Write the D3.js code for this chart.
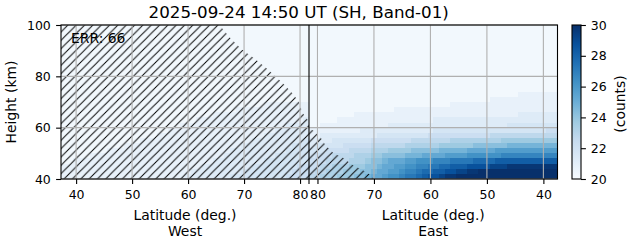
<!DOCTYPE html>
<html><head><meta charset="utf-8">
<script src="https://cdn.jsdelivr.net/npm/d3@7"></script>
<style>body{margin:0;background:#fff}svg text{font-family:"DejaVu Sans",sans-serif;fill:#000}</style>
</head><body><svg id="c" width="631" height="243"></svg>
<script>
// ---------------- data ----------------
const latWest = [38,39,40,41,42,43,44,45,46,47,48,49,50,51,52,53,54,55,56,57,58,59,60,61,62,63,64,65,66,67,68,69,70,71,72,73,74,75,76,77,78,79,80,81];
const latEast = [81,80,79,78,77,76,75,74,73,72,71,70,69,68,67,66,65,64,63,62,61,60,59,58,57,56,55,54,53,52,51,50,49,48,47,46,45,44,43,42,41,40,39,38];
const altBottom = [40,42,44,46,48,50,52,54,56,58,60,62,64,66,68,70,72,74,76,78,80,82,84,86,88,90,92,94,96,98];
const altStep = 2;
// counts per cell, value = 20.25 + 0.5 * index of the character in codeKey
const codeKey = "0123456789abcdefghijk";
// rows from 40 km (first) to 100 km (last); columns follow latWest
const westRows = [
"1111111111"+"1111111111"+"1122222222"+"3333333333"+"4444",
"1111111111"+"1111111111"+"1112222222"+"2233333333"+"3444",
"1111111111"+"1111111111"+"1111122222"+"2222333333"+"3344",
"0011111111"+"1111111111"+"1111111222"+"2222223333"+"3333",
"0000011111"+"1111111111"+"1111111112"+"2222222233"+"3333",
"0000000011"+"1111111111"+"1111111111"+"2222222222"+"3333",
"0000000000"+"0111111111"+"1111111111"+"1122222222"+"2333",
"0000000000"+"0000111111"+"1111111111"+"1111222222"+"2223",
"0000000000"+"0000000111"+"1111111111"+"1111112222"+"2222",
"0000000000"+"0000000001"+"1111111111"+"1111111122"+"2222",
"0000000000"+"0000000000"+"0111111111"+"1111111111"+"2222",
"0000000000"+"0000000000"+"0000111111"+"1111111111"+"1112",
"0000000000"+"0000000000"+"0000000111"+"1111111111"+"1111",
"0000000000"+"0000000000"+"0000000000"+"0111111111"+"1111",
"0000000000"+"0000000000"+"0000000000"+"0000001111"+"1111",
"0000000000"+"0000000000"+"0000000000"+"0000000000"+"0000",
"0000000000"+"0000000000"+"0000000000"+"0000000000"+"0000",
"0000000000"+"0000000000"+"0000000000"+"0000000000"+"0000",
"0000000000"+"0000000000"+"0000000000"+"0000000000"+"0000",
"0000000000"+"0000000000"+"0000000000"+"0000000000"+"0000",
"0000000000"+"0000000000"+"0000000000"+"0000000000"+"0000",
"0000000000"+"0000000000"+"0000000000"+"0000000000"+"0000",
"0000000000"+"0000000000"+"0000000000"+"0000000000"+"0000",
"0000000000"+"0000000000"+"0000000000"+"0000000000"+"0000",
"0000000000"+"0000000000"+"0000000000"+"0000000000"+"0000",
"0000000000"+"0000000000"+"0000000000"+"0000000000"+"0000",
"0000000000"+"0000000000"+"0000000000"+"0000000000"+"0000",
"0000000000"+"0000000000"+"0000000000"+"0000000000"+"0000",
"0000000000"+"0000000000"+"0000000000"+"0000000000"+"0000",
"0000000000"+"0000000000"+"0000000000"+"0000000000"+"0000"
];
// columns follow latEast
const eastRows = [
"5566677788"+"9aabccdeef"+"ghhijjkkkk"+"kkkkkkkkkk"+"kkkk",
"4556667778"+"89aabbcdde"+"ffgghhiijj"+"kkkkkkkkkk"+"kkkk",
"4455666777"+"889aabbccd"+"deeffggghh"+"hhiiijjjjj"+"jjjj",
"4445555666"+"7889aaabbc"+"ccdddeeeef"+"fffggggggg"+"gggg",
"3444555566"+"6778888999"+"aaaabbbbcc"+"ccccdddddd"+"dddd",
"3334444555"+"5666777788"+"88899999aa"+"aaabbbbbbb"+"bbbb",
"2333334444"+"4555555666"+"6667777778"+"8888899999"+"9999",
"2222333333"+"3444444455"+"5555566666"+"6666777777"+"7777",
"1122222222"+"2233333333"+"3444444444"+"4455555555"+"5555",
"1111111112"+"2222222222"+"2233333333"+"3333333333"+"3344",
"0011111111"+"1111222222"+"2222222222"+"2222233333"+"3333",
"0000011111"+"1111111111"+"1122222222"+"2222222222"+"2222",
"0000000011"+"1111111111"+"1111111111"+"1111111222"+"2222",
"0000000000"+"0000011111"+"1111111111"+"1111111111"+"1111",
"0000000000"+"0000000000"+"0000011111"+"1111111111"+"1111",
"0000000000"+"0000000000"+"0000000000"+"0011111111"+"1111",
"0000000000"+"0000000000"+"0000000000"+"0000000111"+"1111",
"0000000000"+"0000000000"+"0000000000"+"0000000000"+"0000",
"0000000000"+"0000000000"+"0000000000"+"0000000000"+"0000",
"0000000000"+"0000000000"+"0000000000"+"0000000000"+"0000",
"0000000000"+"0000000000"+"0000000000"+"0000000000"+"0000",
"0000000000"+"0000000000"+"0000000000"+"0000000000"+"0000",
"0000000000"+"0000000000"+"0000000000"+"0000000000"+"0000",
"0000000000"+"0000000000"+"0000000000"+"0000000000"+"0000",
"0000000000"+"0000000000"+"0000000000"+"0000000000"+"0000",
"0000000000"+"0000000000"+"0000000000"+"0000000000"+"0000",
"0000000000"+"0000000000"+"0000000000"+"0000000000"+"0000",
"0000000000"+"0000000000"+"0000000000"+"0000000000"+"0000",
"0000000000"+"0000000000"+"0000000000"+"0000000000"+"0000",
"0000000000"+"0000000000"+"0000000000"+"0000000000"+"0000"
];
const latTicks = [40,50,60,70,80];
const altTicks = [40,60,80,100];
const cbarTicks = [20,22,24,26,28,30];
const cbarRange = [20,30];
// hatched (masked) regions
const maskWestLat = [37.3,37.3,65.6,67.5,69.6,71.8,73.8,75.6,77.3,78.8,79.8,80.4,81.0,81.6,81.6];
const maskWestAlt = [40,100,100,95,90.5,87,83.5,80,76.5,73,70,66,64,62.5,40];
const maskEastLat = [81.5,81.5,80.8,79.5,78.6,77.2,75.4,73.8,72.0,70.6,70.0];
const maskEastAlt = [40,59.5,59.0,56.4,53.2,50.1,48.2,45.5,43.5,41.6,40];
const titleText = "2025-09-24 14:50 UT (SH, Band-01)";
const errText = "ERR: 66";
const xLabel = "Latitude (deg.)";
const yLabel = "Height (km)";
const cbarLabel = "(counts)";
const blues = ["#f7fbff","#deebf7","#c6dbef","#9ecae1","#6baed6","#4292c6","#2171b5","#08519c","#08306b"];

// ---------------- drawing ----------------
const svg = d3.select("#c");
const defs = svg.append("defs");
const L = 61, M = 309, R = 557.5, T = 25, B = 179;
const xW = d3.scaleLinear().domain([37.3, 81.6]).range([L, M]);
const xE = d3.scaleLinear().domain([81.5, 37.5]).range([M, R]);
const y = d3.scaleLinear().domain([40, 100]).range([B, T]);
const color = d3.scaleLinear()
  .domain(blues.map((_, i) => cbarRange[0] + i * (cbarRange[1] - cbarRange[0]) / (blues.length - 1)))
  .range(blues).clamp(true);

defs.append("clipPath").attr("id", "clipW").append("rect").attr("x", L).attr("y", T).attr("width", M - L).attr("height", B - T);
defs.append("clipPath").attr("id", "clipE").append("rect").attr("x", M).attr("y", T).attr("width", R - M).attr("height", B - T);

const s = 100 / 12;
const pat = defs.append("pattern").attr("id", "hatch").attr("patternUnits", "userSpaceOnUse")
  .attr("x", 1.33).attr("y", 0).attr("width", s).attr("height", s);
pat.append("path")
  .attr("d", `M-1,1 L1,-1 M0,${s} L${s},0 M${s - 1},${s + 1} L${s + 1},${s - 1}`)
  .attr("stroke", "#000").attr("stroke-width", 0.95).attr("fill", "none");

function drawHalf(x, lats, rows, clip) {
  const g = svg.append("g").attr("clip-path", `url(#${clip})`);
  const lo = d3.min(lats), hi = d3.max(lats);
  const cells = [];
  rows.forEach((row, r) => {
    const a = altBottom[r];
    lats.forEach((lat, j) => {
      const v = 20.25 + 0.5 * codeKey.indexOf(row[j]);
      const l0 = lat === lo ? lat - 1.5 : lat - 0.5;
      const l1 = lat === hi ? lat + 1.5 : lat + 0.5;
      cells.push({v, l0, l1, a0: a, a1: a + altStep});
    });
  });
  g.selectAll("rect").data(cells).join("rect")
    .attr("x", d => Math.round(Math.min(x(d.l0), x(d.l1))))
    .attr("width", d => Math.round(Math.max(x(d.l0), x(d.l1))) - Math.round(Math.min(x(d.l0), x(d.l1))))
    .attr("y", d => Math.round(y(d.a1)))
    .attr("height", d => Math.round(y(d.a0)) - Math.round(y(d.a1)))
    .attr("fill", d => color(d.v))
    .attr("shape-rendering", "crispEdges");
  return g;
}
drawHalf(xW, latWest, westRows, "clipW");
drawHalf(xE, latEast, eastRows, "clipE");

// hatched masks
const line = d3.line();
svg.append("g").attr("clip-path", "url(#clipW)").append("path")
  .attr("d", line(maskWestLat.map((la, i) => [xW(la), y(maskWestAlt[i])])) + "Z")
  .attr("fill", "url(#hatch)").attr("stroke", "none");
svg.append("g").attr("clip-path", "url(#clipE)").append("path")
  .attr("d", line(maskEastLat.map((la, i) => [xE(la), y(maskEastAlt[i])])) + "Z")
  .attr("fill", "url(#hatch)").attr("stroke", "none");

// grid
const grid = svg.append("g").attr("stroke", "#b0b0b0").attr("stroke-width", 1.1);
latTicks.forEach(t => {
  [xW, xE].forEach(x => grid.append("line").attr("x1", x(t)).attr("x2", x(t)).attr("y1", T).attr("y2", B));
});
altTicks.forEach(t => grid.append("line").attr("x1", L).attr("x2", R).attr("y1", y(t)).attr("y2", y(t)));

// spines and separator
svg.append("rect").attr("x", L).attr("y", T).attr("width", R - L).attr("height", B - T)
  .attr("fill", "none").attr("stroke", "#000").attr("stroke-width", 1.1);
svg.append("line").attr("x1", M).attr("x2", M).attr("y1", T).attr("y2", B).attr("stroke", "#000").attr("stroke-width", 1.1);

function styleAxis(g) {
  g.select(".domain").remove();
  g.attr("font-family", null).attr("font-size", null);
  g.selectAll(".tick line").attr("stroke", "#000").attr("stroke-width", 1.1);
  g.selectAll(".tick text").attr("font-size", 12.5).attr("fill", "#000");
}
svg.append("g").attr("transform", `translate(0,${B})`)
  .call(d3.axisBottom(xW).tickValues(latTicks).tickSize(4.9).tickPadding(6.3)).call(styleAxis);
svg.append("g").attr("transform", `translate(0,${B})`)
  .call(d3.axisBottom(xE).tickValues(latTicks).tickSize(4.9).tickPadding(6.3)).call(styleAxis);
svg.append("line").attr("x1", M).attr("x2", M).attr("y1", B).attr("y2", B + 4.9).attr("stroke", "#000").attr("stroke-width", 1.1);
svg.append("g").attr("transform", `translate(${L},0)`)
  .call(d3.axisLeft(y).tickValues(altTicks).tickSize(4.9).tickPadding(5.3)).call(styleAxis);

// labels
svg.append("text").attr("x", 298.7).attr("y", 17.7).attr("text-anchor", "middle").attr("font-size", 16.7).text(titleText);
svg.append("text").attr("x", 71).attr("y", 43.3).attr("font-size", 13.9).text(errText);
[[(L + M) / 2, "West"], [(M + R) / 2, "East"]].forEach(([cx, side]) => {
  svg.append("text").attr("x", cx).attr("y", 219.5).attr("text-anchor", "middle").attr("font-size", 13.9).text(xLabel);
  svg.append("text").attr("x", cx).attr("y", 235.5).attr("text-anchor", "middle").attr("font-size", 13.9).text(side);
});
svg.append("text").attr("transform", `translate(15.5,${(T + B) / 2}) rotate(-90)`)
  .attr("text-anchor", "middle").attr("font-size", 13.9).text(yLabel);

// colorbar
const CX0 = 572, CX1 = 581;
const grad = defs.append("linearGradient").attr("id", "cbar").attr("x1", 0).attr("x2", 0).attr("y1", 1).attr("y2", 0);
blues.forEach((c, i) => grad.append("stop").attr("offset", i / (blues.length - 1)).attr("stop-color", c));
const yc = d3.scaleLinear().domain(cbarRange).range([B, T]);
svg.append("rect").attr("x", CX0).attr("y", T).attr("width", CX1 - CX0).attr("height", B - T)
  .attr("fill", "url(#cbar)").attr("stroke", "#000").attr("stroke-width", 1.1);
svg.append("g").attr("transform", `translate(${CX1},0)`)
  .call(d3.axisRight(yc).tickValues(cbarTicks).tickSize(4.9).tickPadding(4.9)).call(styleAxis);
svg.append("text").attr("transform", `translate(625,104) rotate(-90)`)
  .attr("text-anchor", "middle").attr("font-size", 13.9).text(cbarLabel);
</script></body></html>
